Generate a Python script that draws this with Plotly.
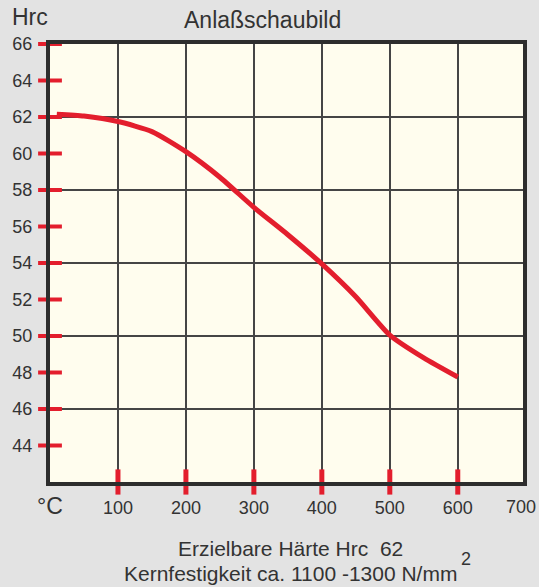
import plotly.graph_objects as go

# Data
temps = [10, 50, 100, 150, 200, 250, 300, 350, 400, 450, 500, 550, 600]
hrc = [62.15, 62.05, 61.75, 61.2, 60.1, 58.7, 57.05, 55.55, 53.95, 52.15, 50.05, 48.8, 47.75]

y_ticks = [44, 46, 48, 50, 52, 54, 56, 58, 60, 62, 64, 66]
y_grid = [46, 50, 54, 58, 62]
x_ticks = [0, 100, 200, 300, 400, 500, 600]
x_tick_text = ['<span style="font-size:23px">°C</span>', "100", "200", "300", "400", "500", "600"]
x_red_ticks = [100, 200, 300, 400, 500, 600]
x_range = [0, 696]

RED = "#e31e2d"
DARK = "#2d2d2d"
TXT = "#333333"
FONT = "Liberation Sans, Arial, sans-serif"

fig = go.Figure()

fig.add_trace(go.Scatter(
    x=temps, y=hrc, mode="lines",
    line=dict(color=RED, width=5, shape="spline", smoothing=0.6),
    hoverinfo="skip", showlegend=False,
))

# red tick marks on the y axis
fig.add_trace(go.Scatter(
    x=[0] * len(y_ticks), y=y_ticks, mode="markers",
    marker=dict(symbol="line-ew", size=17, line=dict(color=RED, width=4)),
    cliponaxis=False, hoverinfo="skip", showlegend=False,
))
# red tick marks on the x axis
fig.add_trace(go.Scatter(
    x=x_red_ticks, y=[42] * len(x_red_ticks), mode="markers",
    marker=dict(symbol="line-ns", size=18, line=dict(color=RED, width=5)),
    cliponaxis=False, hoverinfo="skip", showlegend=False,
))

fig.update_layout(
    width=539, height=587,
    margin=dict(l=46, r=13, t=44, b=105),
    paper_bgcolor="#e3e3e3",
    plot_bgcolor="#fffdee",
    font=dict(family=FONT, color=TXT, size=18),
    xaxis=dict(
        range=x_range, tickvals=x_ticks, ticktext=x_tick_text,
        showgrid=True, gridcolor="#454545", gridwidth=2,
        zeroline=False, showline=True, linecolor=DARK, linewidth=4, mirror=True,
        ticks="outside", ticklen=6, tickcolor="rgba(0,0,0,0)",
        tickfont=dict(size=18, color=TXT),
    ),
    yaxis=dict(
        range=[42, 66], tickvals=y_ticks,
        showgrid=False, zeroline=False,
        showline=True, linecolor=DARK, linewidth=4, mirror=True,
        ticks="outside", ticklen=10, tickcolor="rgba(0,0,0,0)",
        tickfont=dict(size=18, color=TXT),
        minor=dict(tickvals=y_grid, showgrid=True, gridcolor="#454545", gridwidth=2),
    ),
    annotations=[
        dict(text="Hrc", xref="paper", yref="paper", x=0, y=1, xanchor="right", yanchor="bottom",
             xshift=0, yshift=12, showarrow=False, font=dict(size=23, color=TXT)),
        dict(text="Anlaßschaubild", xref="paper", yref="paper", x=0.45, y=1, xanchor="center",
             yanchor="bottom", yshift=9, showarrow=False, font=dict(size=23, color=TXT)),
        dict(text="700", xref="paper", yref="paper", x=700 / x_range[1], y=0, xanchor="center",
             yanchor="top", xshift=-5, yshift=-13, showarrow=False, font=dict(size=18, color=TXT)),
        dict(text="Erzielbare Härte Hrc  62", xref="paper", yref="paper", x=0.508, y=0,
             xanchor="center", yanchor="middle", yshift=-66, showarrow=False,
             font=dict(size=21, color=TXT)),
        dict(text="Kernfestigkeit ca. 1100 -1300 N/mm", xref="paper", yref="paper", x=0.508, y=0,
             xanchor="center", yanchor="middle", yshift=-91, showarrow=False,
             font=dict(size=21, color=TXT)),
        dict(text="2", xref="paper", yref="paper", x=0.88, y=0,
             xanchor="center", yanchor="middle", yshift=-77, showarrow=False,
             font=dict(size=18, color=TXT)),
    ],
)

fig.write_html("out.html", config={"displayModeBar": False},
               post_script="document.body.style.margin='0';")
